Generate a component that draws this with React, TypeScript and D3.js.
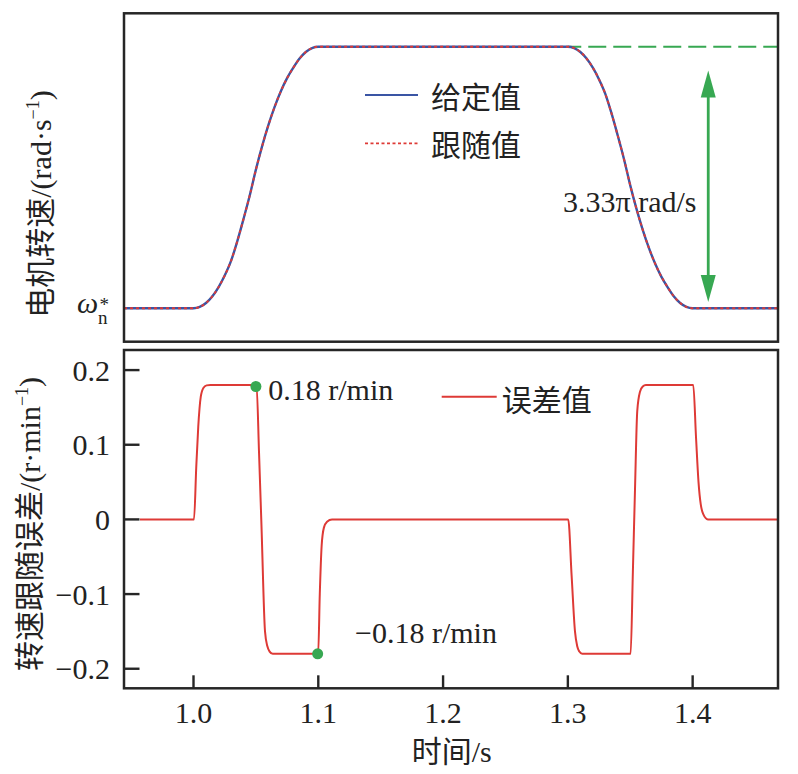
import React from "react";
import * as d3 from "d3";

// ---------- data ----------
// time axis (s)
const speedT = [
  0.9443, 1.0, 1.005, 1.01, 1.015, 1.02, 1.025, 1.03, 1.035, 1.04, 1.045, 1.05, 1.055, 1.06, 1.065, 1.07,
  1.075, 1.08, 1.085, 1.09, 1.095, 1.1,
  1.3, 1.305, 1.31, 1.315, 1.32, 1.325, 1.33, 1.335, 1.34, 1.345, 1.35, 1.355, 1.36, 1.365, 1.37,
  1.375, 1.38, 1.385, 1.39, 1.395, 1.4, 1.4684,
];
// speed, normalised: 0 = ω_n*, 1 = ω_n* + 3.33π rad/s
const speedV = [
  0, 0, 0.005, 0.02, 0.045, 0.08, 0.125, 0.18, 0.255, 0.34, 0.43, 0.53, 0.62, 0.7, 0.77, 0.83,
  0.88, 0.92, 0.955, 0.98, 0.995, 1.0,
  1.0, 0.995, 0.98, 0.955, 0.92, 0.875, 0.82, 0.745, 0.66, 0.57, 0.47, 0.38, 0.3, 0.23, 0.17,
  0.12, 0.08, 0.045, 0.02, 0.005, 0, 0,
];

const errT = [
  0.9571, 1.0004, 1.0022, 1.0038, 1.0058, 1.0079, 1.0105, 1.0135,
  1.0505, 1.0525, 1.0545, 1.0573, 1.0592, 1.061, 1.0635,
  1.0999, 1.1012, 1.1027, 1.1045, 1.107, 1.111,
  1.3003, 1.303, 1.3057, 1.3075, 1.3092, 1.3115,
  1.3503, 1.3521, 1.3538, 1.3556, 1.3578, 1.36, 1.3625,
  1.4005, 1.4027, 1.4047, 1.4065, 1.4085, 1.4122,
  1.468,
];
const errV = [
  0, 0, 0.07, 0.124, 0.164, 0.176, 0.1795, 0.18,
  0.18, 0.09, -0.01, -0.15, -0.17, -0.177, -0.18,
  -0.18, -0.1, -0.035, -0.011, -0.003, 0,
  0, -0.075, -0.15, -0.17, -0.177, -0.18,
  -0.18, -0.07, 0.04, 0.145, 0.171, 0.178, 0.18,
  0.18, 0.11, 0.05, 0.02, 0.007, 0,
  0,
];

const xTicks = [1.0, 1.1, 1.2, 1.3, 1.4];
const xTickLabels = ["1.0", "1.1", "1.2", "1.3", "1.4"];
const yTicks = [0.2, 0.1, 0, -0.1, -0.2];
const yTickLabels = ["0.2", "0.1", "0", "\u22120.1", "\u22120.2"];

// annotated points
const markT = [1.05, 1.0995];
const markV = [0.178, -0.18];

const legendTop = ["给定值", "跟随值"];
const legendBottom = ["误差值"];

// arrow annotation (time, normalised speed)
const arrowT = 1.4125;
const arrowFrom = 0.024;
const arrowTo = 0.909;
const plateauStartT = 1.3;

// ---------- layout ----------
const W = 798;
const H = 774;
const left = 124;
const right = 778;
const topP = { y0: 13.3, y1: 341.7 };
const botP = { y0: 350, y1: 688.3 };

const FONT = "'Liberation Serif', 'Times New Roman', 'Noto Sans CJK SC', serif";
const BLUE = "#3a55a4";
const RED = "#de3a36";
const GREEN = "#37a852";
const AXIS = "#262626";

export default function App() {
  const x = d3.scaleLinear().domain([0.9443, 1.4684]).range([left, right]);
  const yTop = d3.scaleLinear().domain([-0.128, 1.128]).range([topP.y1, topP.y0]);
  const yBot = d3.scaleLinear().domain([-0.2262, 0.2269]).range([botP.y1, botP.y0]);

  const speedPts: [number, number][] = speedT.map((t, i) => [t, speedV[i]]);
  const errPts: [number, number][] = errT.map((t, i) => [t, errV[i]]);

  const lineTop = d3
    .line<[number, number]>()
    .x((d) => x(d[0]))
    .y((d) => yTop(d[1]))
    .curve(d3.curveMonotoneX);
  const lineBot = d3
    .line<[number, number]>()
    .x((d) => x(d[0]))
    .y((d) => yBot(d[1]))
    .curve(d3.curveMonotoneX);

  const ax = x(arrowT);
  const ayTop = yTop(arrowTo);
  const ayBot = yTop(arrowFrom);
  const headL = 27;
  const headW = 7.5;

  return (
    <svg
      width={W}
      height={H}
      viewBox={`0 0 ${W} ${H}`}
      style={{ position: "absolute", left: 0, top: 0, background: "#fff", display: "block" }}
      fontFamily={FONT}
    >
      <rect x={0} y={0} width={W} height={H} fill="#fff" />

      <defs>
        <clipPath id="clipTop">
          <rect x={left} y={topP.y0} width={right - left} height={topP.y1 - topP.y0} />
        </clipPath>
        <clipPath id="clipBot">
          <rect x={left} y={botP.y0} width={right - left} height={botP.y1 - botP.y0} />
        </clipPath>
      </defs>

      {/* ---------- top panel ---------- */}
      <line
        x1={x(plateauStartT)}
        x2={right}
        y1={yTop(1)}
        y2={yTop(1)}
        stroke={GREEN}
        strokeWidth={2.2}
        strokeDasharray="18,7"
        strokeDashoffset={4.6}
      />

      <text x={563} y={211.5} fontSize={30} fill="#222">
        3.33π rad/s
      </text>

      <g clipPath="url(#clipTop)">
        <path d={lineTop(speedPts) || ""} fill="none" stroke={BLUE} strokeWidth={2.4} />
        <path
          d={lineTop(speedPts) || ""}
          fill="none"
          stroke={RED}
          strokeWidth={1.9}
          strokeDasharray="3,3"
        />
      </g>

      {/* double arrow */}
      <line x1={ax} x2={ax} y1={ayTop + headL - 2} y2={ayBot - headL + 2} stroke={GREEN} strokeWidth={2.8} />
      <path
        d={`M${ax},${ayTop} L${ax - headW},${ayTop + headL} L${ax + headW},${ayTop + headL} Z`}
        fill={GREEN}
      />
      <path
        d={`M${ax},${ayBot} L${ax - headW},${ayBot - headL} L${ax + headW},${ayBot - headL} Z`}
        fill={GREEN}
      />

      {/* top legend */}
      <line x1={365} x2={418} y1={95} y2={95} stroke={BLUE} strokeWidth={2} />
      <line x1={365} x2={418} y1={143.3} y2={143.3} stroke={RED} strokeWidth={1.8} strokeDasharray="3,2.5" />
      <text x={431} y={108} fontSize={30} fill="#222">
        {legendTop[0]}
      </text>
      <text x={431} y={156.4} fontSize={30} fill="#222">
        {legendTop[1]}
      </text>

      {/* ω label */}
      <text x={77} y={313} fontSize={30} fill="#222">
        <tspan fontStyle="italic">ω</tspan>
        <tspan x={98} dy={10.5} fontSize={19}>
          n
        </tspan>
        <tspan x={99.5} dy={-12.5} fontSize={19}>
          *
        </tspan>
      </text>

      <rect
        x={left}
        y={topP.y0}
        width={right - left}
        height={topP.y1 - topP.y0}
        fill="none"
        stroke={AXIS}
        strokeWidth={2.5}
      />

      {/* top y label */}
      <text transform={`translate(50.5, 204) rotate(-90)`} textAnchor="middle" fontSize={30} fill="#222">
        电机转速/(rad·s
        <tspan fontSize={18} dy={-12}>
          −1
        </tspan>
        <tspan fontSize={30} dy={12}>
          )
        </tspan>
      </text>

      {/* ---------- bottom panel ---------- */}
      <g clipPath="url(#clipBot)">
        <path d={lineBot(errPts) || ""} fill="none" stroke={RED} strokeWidth={2} />
      </g>

      {markT.map((t, i) => (
        <circle key={i} cx={x(t)} cy={yBot(markV[i])} r={5.5} fill={GREEN} />
      ))}

      <text x={268.3} y={399.5} fontSize={30} fill="#222">
        0.18 r/min
      </text>
      <text x={355} y={642.5} fontSize={30} fill="#222">
        −0.18 r/min
      </text>

      {/* bottom legend */}
      <line x1={441.7} x2={496.7} y1={396.7} y2={396.7} stroke={RED} strokeWidth={2} />
      <text x={501.7} y={410.5} fontSize={30} fill="#222">
        {legendBottom[0]}
      </text>

      {/* ticks */}
      {xTicks.map((t, i) => (
        <g key={"xt" + i}>
          <line x1={x(t)} x2={x(t)} y1={botP.y1} y2={botP.y1 - 13} stroke={AXIS} strokeWidth={2.4} />
          <text x={x(t)} y={723} fontSize={30} textAnchor="middle" fill="#222">
            {xTickLabels[i]}
          </text>
        </g>
      ))}
      {yTicks.map((v, i) => (
        <g key={"yt" + i}>
          <line x1={left} x2={left + 15.5} y1={yBot(v)} y2={yBot(v)} stroke={AXIS} strokeWidth={2.4} />
          <text x={110} y={yBot(v) + 10.5} fontSize={30} textAnchor="end" fill="#222">
            {yTickLabels[i]}
          </text>
        </g>
      ))}

      <rect
        x={left}
        y={botP.y0}
        width={right - left}
        height={botP.y1 - botP.y0}
        fill="none"
        stroke={AXIS}
        strokeWidth={2.5}
      />

      {/* bottom y label */}
      <text transform={`translate(40.4, 524) rotate(-90)`} textAnchor="middle" fontSize={30} fill="#222">
        转速跟随误差/(r·min
        <tspan fontSize={18} dy={-12}>
          −1
        </tspan>
        <tspan fontSize={30} dy={12}>
          )
        </tspan>
      </text>

      {/* x label */}
      <text x={451.7} y={762} fontSize={30} textAnchor="middle" fill="#222">
        时间/s
      </text>
    </svg>
  );
}
